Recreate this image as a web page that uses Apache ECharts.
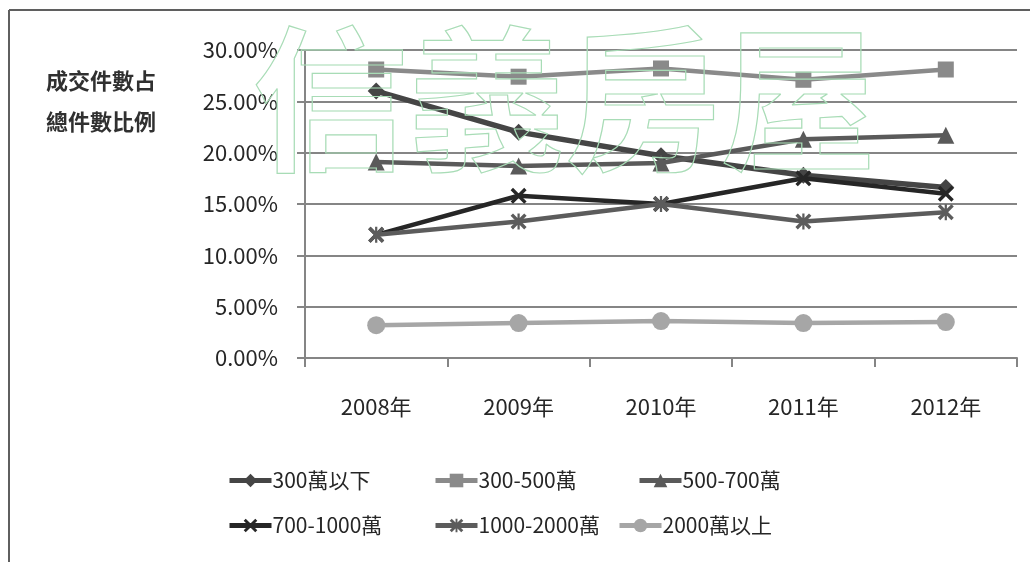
<!DOCTYPE html>
<html>
<head>
<meta charset="utf-8">
<title>成交件數占總件數比例</title>
<script src="https://cdn.jsdelivr.net/npm/echarts@6/dist/echarts.min.js"></script>
<style>
  html, body { margin: 0; padding: 0; background: #ffffff; }
  #chart { width: 1030px; height: 562px; }
</style>
</head>
<body>
<div id="chart"></div>
<script>
// Years on the category axis
const categories = ['2008年', '2009年', '2010年', '2011年', '2012年'];

// Share of transactions by price band (%)
const under300 = [26.0, 22.0, 19.7, 17.8, 16.6];
const band300to500 = [28.1, 27.4, 28.2, 27.1, 28.1];
const band500to700 = [19.1, 18.7, 19.0, 21.3, 21.7];
const band700to1000 = [12.0, 15.8, 15.0, 17.5, 16.0];
const band1000to2000 = [12.0, 13.3, 15.0, 13.3, 14.2];
const over2000 = [3.2, 3.4, 3.6, 3.4, 3.5];

// Series names as shown in the legend
const seriesNames = ['300萬以下', '300-500萬', '500-700萬', '700-1000萬', '1000-2000萬', '2000萬以上'];

// Value axis range (%)
const yMin = 0;
const yMax = 30;
const yStep = 5;

// Axis title, drawn in two lines
const axisTitleLines = ['成交件數占', '總件數比例'];

// Watermark text
const watermark = '信義房屋';

const FONT = '"Noto Sans CJK TC", "Noto Sans", sans-serif';

const crossPath = 'path://M0,1.5 L1.5,0 L10,8.5 L8.5,10 Z M8.5,0 L10,1.5 L1.5,10 L0,8.5 Z';
const starPath = 'path://M0,1.5 L1.5,0 L10,8.5 L8.5,10 Z M8.5,0 L10,1.5 L1.5,10 L0,8.5 Z M4.3,0 L5.7,0 L5.7,10 L4.3,10 Z';

const styles = [
  { data: under300,       color: '#454545', symbol: 'diamond',  size: 17, width: 5.5 },
  { data: band300to500,   color: '#8a8a8a', symbol: 'rect',     size: 16, width: 4.5 },
  { data: band500to700,   color: '#5a5a5a', symbol: 'triangle', size: 17, width: 4.5 },
  { data: band700to1000,  color: '#262626', symbol: crossPath,  size: 16, width: 4.5 },
  { data: band1000to2000, color: '#5c5c5c', symbol: starPath,   size: 16, width: 4.5 },
  { data: over2000,       color: '#a6a6a6', symbol: 'circle',   size: 18, width: 4.5 }
];

const series = styles.map((s, i) => ({
  name: seriesNames[i],
  type: 'line',
  data: s.data,
  symbol: s.symbol,
  symbolSize: s.size,
  showAllSymbol: true,
  lineStyle: { color: s.color, width: s.width },
  itemStyle: { color: s.color, borderWidth: 0 },
  emphasis: { disabled: true },
  z: 2 + i
}));

// Legend placement: two rows of three entries
const legendSlots = [
  { left: 222, top: 465 }, { left: 428, top: 465 }, { left: 632, top: 465 },
  { left: 222, top: 510 }, { left: 428, top: 510 }, { left: 612, top: 510 }
];
const legends = seriesNames.map((name, i) => ({
  data: [name],
  left: legendSlots[i].left,
  top: legendSlots[i].top,
  itemWidth: 42,
  itemHeight: 17,
  itemGap: 0,
  selectedMode: false,
  lineStyle: { width: 5 },
  textStyle: { fontFamily: FONT, fontSize: 21, color: '#262626', padding: [0, 0, 0, -4] }
}));

const graphics = [
  // frame edges
  { type: 'line', shape: { x1: 9, y1: 10, x2: 1030, y2: 10 }, style: { stroke: '#5f5f5f', lineWidth: 2 }, silent: true },
  { type: 'line', shape: { x1: 9, y1: 10, x2: 9, y2: 562 }, style: { stroke: '#5f5f5f', lineWidth: 2 }, silent: true }
];
axisTitleLines.forEach((line, i) => {
  graphics.push({
    type: 'text', left: 46, top: 70 + i * 41, silent: true,
    style: { text: line, fontFamily: FONT, fontSize: 22, fontWeight: 'bold', fill: '#303030' }
  });
});
graphics.push({
  type: 'text', left: 252, top: 20, z: 100, silent: true,
  style: {
    text: watermark, fontFamily: FONT, fontSize: 156, fontWeight: 'bold',
    fill: 'rgba(0,0,0,0)', stroke: '#a8dcb6', lineWidth: 1.2
  }
});

const chart = echarts.init(document.getElementById('chart'));
chart.setOption({
  animation: false,
  backgroundColor: '#ffffff',
  grid: { left: 305, right: 13, top: 50, bottom: 204, containLabel: false },
  xAxis: {
    type: 'category',
    data: categories,
    boundaryGap: true,
    axisLine: { lineStyle: { color: '#858585', width: 2 } },
    axisTick: { show: true, length: 9, alignWithLabel: false, lineStyle: { color: '#858585', width: 2 } },
    axisLabel: { margin: 38, fontFamily: FONT, fontSize: 22, color: '#262626' },
    splitLine: { show: false }
  },
  yAxis: {
    type: 'value',
    min: yMin,
    max: yMax,
    interval: yStep,
    axisLine: { show: true, lineStyle: { color: '#858585', width: 2 } },
    axisTick: { show: true, length: 8, lineStyle: { color: '#858585', width: 2 } },
    axisLabel: {
      margin: 27, fontFamily: FONT, fontSize: 22, color: '#262626',
      formatter: v => v.toFixed(2) + '%'
    },
    splitLine: { show: true, lineStyle: { color: '#858585', width: 2 } }
  },
  legend: legends,
  series: series,
  graphic: graphics
});
</script>
</body>
</html>
